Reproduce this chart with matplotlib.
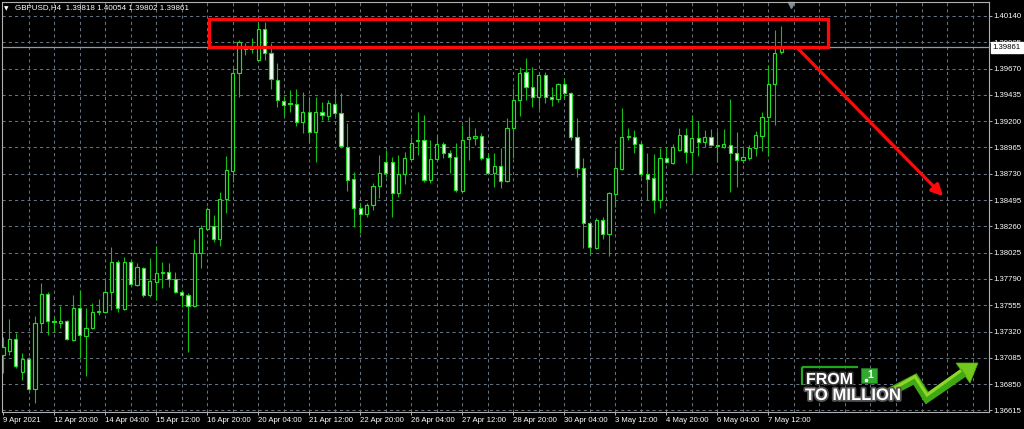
import matplotlib
matplotlib.use("Agg")
import matplotlib.pyplot as plt
import matplotlib.patheffects as pe
from matplotlib.patches import Rectangle, Polygon

plt.rcParams['font.family'] = ['Liberation Sans', 'DejaVu Sans']

# ---------------- data: GBPUSD H4 candles, 9 Apr 2021 12:00 .. 7 May 2021 20:00 ----------------
symbol = "GBPUSD,H4"

opens = [
    1.37111, 1.37146, 1.37254, 1.36959, 1.37075, 1.36807, 1.37397, 1.37656, 1.37415, 1.37397,
    1.37415, 1.37245, 1.37531, 1.37280, 1.37352, 1.37495, 1.37495, 1.37674, 1.37942, 1.37522,
    1.37942, 1.37736, 1.37888, 1.37647, 1.37763, 1.37843, 1.37852, 1.37790, 1.37674, 1.37647,
    1.37549, 1.38022, 1.38237, 1.38264, 1.38147, 1.38505, 1.38755, 1.39631, 1.39854, 1.39845,
    1.39747, 1.40024, 1.39809, 1.39568, 1.39380, 1.39363, 1.39354, 1.39193, 1.39282, 1.39104,
    1.39282, 1.39246, 1.39354, 1.39273, 1.38970, 1.38684, 1.38424, 1.38371, 1.38451, 1.38621,
    1.38836, 1.38836, 1.38558, 1.38728, 1.38862, 1.39023, 1.39032, 1.38675, 1.38862, 1.38996,
    1.38916, 1.38880, 1.38576, 1.39041, 1.39050, 1.39068, 1.38871, 1.38737, 1.38800, 1.38666,
    1.39139, 1.39389, 1.39640, 1.39506, 1.39416, 1.39613, 1.39416, 1.39398, 1.39532, 1.39452,
    1.39059, 1.38782, 1.38290, 1.38067, 1.38317, 1.38192, 1.38549, 1.38773, 1.39059, 1.39059,
    1.38996, 1.38728, 1.38693, 1.38496, 1.38871, 1.38826, 1.38943, 1.39077, 1.38925, 1.39050,
    1.39014, 1.39059, 1.38987, 1.38970, 1.38987, 1.38916, 1.38853, 1.38871, 1.38961, 1.39068,
    1.39237, 1.39532, 1.39818]

highs = [
    1.37271, 1.37432, 1.37307, 1.37128, 1.37093, 1.37460, 1.37754, 1.37674, 1.37451, 1.37549,
    1.37424, 1.37647, 1.37692, 1.37531, 1.37575, 1.37611, 1.37781, 1.38076, 1.37960, 1.37987,
    1.37960, 1.37933, 1.37897, 1.37978, 1.38085, 1.37942, 1.37933, 1.37852, 1.37692, 1.37665,
    1.38147, 1.38272, 1.38434, 1.38362, 1.38567, 1.38889, 1.39684, 1.39926, 1.39899, 1.39943,
    1.40086, 1.40086, 1.39899, 1.39720, 1.39425, 1.39479, 1.39488, 1.39461, 1.39407, 1.39416,
    1.39372, 1.39389, 1.39497, 1.39452, 1.39184, 1.38746, 1.38469, 1.38469, 1.38648, 1.38898,
    1.38943, 1.38880, 1.38898, 1.38925, 1.39059, 1.39282, 1.39255, 1.39032, 1.39077, 1.39014,
    1.38943, 1.39005, 1.39166, 1.39237, 1.39139, 1.39095, 1.38916, 1.38916, 1.38961, 1.39229,
    1.39497, 1.39684, 1.39765, 1.39684, 1.39640, 1.39640, 1.39506, 1.39541, 1.39586, 1.39461,
    1.39229, 1.38871, 1.38299, 1.38335, 1.38344, 1.38567, 1.38943, 1.39318, 1.39139, 1.39121,
    1.39014, 1.38916, 1.38907, 1.38961, 1.38970, 1.38996, 1.39139, 1.39139, 1.39255, 1.39202,
    1.39121, 1.39130, 1.39112, 1.39130, 1.39398, 1.39104, 1.38979, 1.38987, 1.39112, 1.39282,
    1.39702, 1.40015, 1.40054]

lows = [
    1.36950, 1.37111, 1.36995, 1.36887, 1.36798, 1.36682, 1.37316, 1.37289, 1.37316, 1.37352,
    1.37245, 1.37236, 1.37084, 1.36923, 1.37343, 1.37468, 1.37486, 1.37513, 1.37495, 1.37513,
    1.37736, 1.37727, 1.37629, 1.37629, 1.37602, 1.37709, 1.37718, 1.37665, 1.37540, 1.37138,
    1.37540, 1.37888, 1.38228, 1.38120, 1.38085, 1.38380, 1.38657, 1.39416, 1.39792, 1.39809,
    1.39738, 1.39747, 1.39488, 1.39327, 1.39246, 1.39282, 1.39157, 1.39094, 1.39005, 1.38836,
    1.39211, 1.39211, 1.39237, 1.38961, 1.38577, 1.38254, 1.38201, 1.38344, 1.38407, 1.38514,
    1.38701, 1.38344, 1.38522, 1.38639, 1.38853, 1.38898, 1.38657, 1.38648, 1.38853, 1.38871,
    1.38737, 1.38567, 1.38567, 1.38853, 1.38987, 1.38853, 1.38728, 1.38612, 1.38603, 1.38657,
    1.38871, 1.39246, 1.39389, 1.39327, 1.39309, 1.39363, 1.39336, 1.39372, 1.39407, 1.39032,
    1.38701, 1.38067, 1.38022, 1.38058, 1.38147, 1.37996, 1.38433, 1.38764, 1.39032, 1.38916,
    1.38701, 1.38496, 1.38380, 1.38424, 1.38826, 1.38817, 1.38934, 1.38826, 1.38746, 1.38889,
    1.38970, 1.38979, 1.38836, 1.38961, 1.38567, 1.38612, 1.38826, 1.38853, 1.38889, 1.38934,
    1.38889, 1.39166, 1.39802]

closes = [
    1.37182, 1.37253, 1.37012, 1.37075, 1.36807, 1.37397, 1.37656, 1.37415, 1.37406, 1.37415,
    1.37254, 1.37531, 1.37289, 1.37352, 1.37495, 1.37504, 1.37674, 1.37942, 1.37531, 1.37942,
    1.37745, 1.37897, 1.37647, 1.37772, 1.37843, 1.37852, 1.37790, 1.37674, 1.37647, 1.37549,
    1.38022, 1.38246, 1.38416, 1.38147, 1.38505, 1.38764, 1.39631, 1.39908, 1.39845, 1.39854,
    1.40024, 1.39809, 1.39577, 1.39389, 1.39345, 1.39354, 1.39193, 1.39282, 1.39104, 1.39282,
    1.39255, 1.39363, 1.39273, 1.38979, 1.38675, 1.38424, 1.38371, 1.38451, 1.38621, 1.38737,
    1.38737, 1.38558, 1.38728, 1.38871, 1.39005, 1.39032, 1.38675, 1.38862, 1.38996, 1.38916,
    1.38880, 1.38585, 1.39032, 1.39059, 1.39068, 1.38871, 1.38737, 1.38800, 1.38666, 1.39139,
    1.39389, 1.39631, 1.39506, 1.39416, 1.39613, 1.39416, 1.39398, 1.39532, 1.39452, 1.39059,
    1.38782, 1.38290, 1.38076, 1.38317, 1.38192, 1.38558, 1.38782, 1.39059, 1.39068, 1.38996,
    1.38728, 1.38684, 1.38496, 1.38871, 1.38836, 1.38970, 1.39077, 1.38925, 1.39050, 1.39014,
    1.39059, 1.38987, 1.38979, 1.38996, 1.38916, 1.38853, 1.38880, 1.38961, 1.39077, 1.39237,
    1.39532, 1.39809, 1.39861]

# time axis labels, one every 8 bars
x_tick_bars = list(range(0, 121, 8))
x_tick_labels = ['9 Apr 2021', '12 Apr 20:00', '14 Apr 04:00', '15 Apr 12:00', '16 Apr 20:00',
                 '20 Apr 04:00', '21 Apr 12:00', '22 Apr 20:00', '26 Apr 04:00', '27 Apr 12:00',
                 '28 Apr 20:00', '30 Apr 04:00', '3 May 12:00', '4 May 20:00', '6 May 04:00',
                 '7 May 12:00']

# price axis levels
y_ticks = [1.40140, 1.39905, 1.39670, 1.39435, 1.39200, 1.38965, 1.38730, 1.38495,
           1.38260, 1.38025, 1.37790, 1.37555, 1.37320, 1.37085, 1.36850, 1.36615]

# resistance zone and the drawn arrow
zone_bars = (32.3, 129.3)
zone_prices = (1.39866, 1.40113)
arrow_from = (124.6, 1.39850)
arrow_to = (147.4, 1.38530)

# ---------------- figure ----------------
W, H = 1024, 429
fig = plt.figure(figsize=(W / 100, H / 100), dpi=100, facecolor='black')
ax = fig.add_axes([2 / W, (H - 411.5) / H, 986.5 / W, 409.5 / H])
ax.set_facecolor('black')
ax.set_xlim(-0.16, 154.5)
ax.set_ylim(1.36606, 1.40265)

grid_col = '#66717f'
for b in range(4, 155, 4):
    ax.axvline(b, color=grid_col, lw=0.75, ls=(0, (3, 3)), zorder=0)
for p in y_ticks:
    ax.axhline(p, color=grid_col, lw=0.75, ls=(0, (3, 3)), zorder=0)

# current price line
ax.axhline(closes[-1], color='#8f9aa5', lw=0.9, zorder=1)

# candles
n = len(closes)
xs = list(range(n))
ax.vlines(xs, lows, highs, color='#14c014', lw=0.8, zorder=2)
bottoms = [min(o, c) for o, c in zip(opens, closes)]
heights = [abs(c - o) for o, c in zip(opens, closes)]
faces = ['black' if c > o else 'white' for o, c in zip(opens, closes)]
ax.bar(xs, heights, bottom=bottoms, width=0.5, color=faces, edgecolor='#22dd22',
       linewidth=0.85, zorder=3)

# red zone + arrow
ax.add_patch(Rectangle((zone_bars[0], zone_prices[0]), zone_bars[1] - zone_bars[0],
                       zone_prices[1] - zone_prices[0], fill=False, edgecolor='#ff0a0a',
                       lw=2.4, zorder=5))
ax.annotate('', xy=arrow_to, xytext=arrow_from,
            arrowprops=dict(arrowstyle='-|>', color='#ff0a0a', lw=2.3, mutation_scale=17,
                            shrinkA=0, shrinkB=0), zorder=5)

# axes styling
for s in ax.spines.values():
    s.set_color('#b0b0b0')
    s.set_linewidth(0.8)
ax.yaxis.tick_right()
ax.set_yticks(y_ticks)
ax.set_yticklabels(['%.5f' % p for p in y_ticks])
ax.set_xticks(x_tick_bars)
ax.set_xticklabels(x_tick_labels, ha='left')
ax.tick_params(axis='y', colors='#b0b0b0', labelcolor='white', labelsize=5.6,
               length=2.2, width=0.7, pad=1.6)
ax.tick_params(axis='x', colors='#b0b0b0', labelcolor='white', labelsize=5.6,
               length=2.2, width=0.7, pad=2.0)

# price tag for the last close
ax.text(1.004, closes[-1], '%.5f' % closes[-1], transform=ax.get_yaxis_transform(),
        ha='left', va='center', fontsize=5.6, color='black', clip_on=False, zorder=6,
        bbox=dict(boxstyle='square,pad=0.25', facecolor='white', edgecolor='white'))

# chart shift marker
ax.plot([123.5], [0.992], marker='v', color='#7f8c99', markersize=5,
        transform=ax.get_xaxis_transform(), clip_on=False)

# title
fig.text(4 / W, 1 - 8.5 / H, '\u25bc', fontsize=4.2, color='white', va='center',
         family='DejaVu Sans')
fig.text(15 / W, 1 - 8 / H,
         '%s  %.5f %.5f %.5f %.5f' % (symbol, opens[-1], highs[-1], lows[-1], closes[-1]),
         fontsize=5.8, color='white', va='center')

# ---------------- logo, bottom right ----------------
lg = fig.add_axes([795 / W, (H - 410) / H, 190 / W, 55 / H])
lg.set_xlim(0, 190)
lg.set_ylim(55, 0)
lg.axis('off')
lg.hlines(12, 7, 63, color='#1fa81f', lw=1.6)
lg.vlines(7, 12, 30, color='#1fa81f', lw=1.6)
outline = [pe.withStroke(linewidth=2.2, foreground='#3a3a3a')]
lg.text(11, 24.5, 'FROM', fontsize=11.5, fontweight='bold', color='white', va='center',
        path_effects=outline)
lg.add_patch(Rectangle((66, 13), 16, 15, facecolor='#2eaa2e', edgecolor='#1e7e1e', lw=0.5))
lg.text(75.5, 20.5, '1', fontsize=7.5, fontweight='bold', color='white', ha='center',
        va='center')
lg.plot([70.5], [24.5], marker='s', color='white', markersize=1.4)
lg.text(10, 40.5, 'TO MILLION', fontsize=12, fontweight='bold', color='white', va='center',
        path_effects=[pe.withStroke(linewidth=2.6, foreground='#555555')])
# zigzag arrow
lg.plot([95, 120, 132, 169], [37, 24, 43, 17.5], color='#3fa812', lw=6.5,
        solid_joinstyle='miter', solid_capstyle='butt')
lg.plot([97, 120, 132, 166], [34.5, 21.5, 40, 15.5], color='#8fd62a', lw=2.2,
        solid_joinstyle='miter', solid_capstyle='butt')
lg.add_patch(Polygon([(183, 8), (161, 8), (175, 28)], closed=True, facecolor='#72c81c',
                     edgecolor='#4fae14', lw=0.5))

fig.savefig('out.png', dpi=100, facecolor='black')
